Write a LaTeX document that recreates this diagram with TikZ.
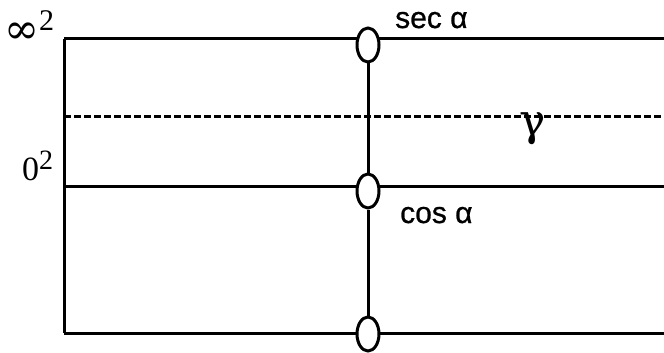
\documentclass[tikz,border=0pt]{standalone}
\usepackage{fontspec}
\setmainfont{Liberation Serif}
\newfontfamily\labelsans[FakeBold=0.8]{Liberation Sans}
\newfontfamily\symserif{DejaVu Serif}
\usetikzlibrary{shapes.geometric}
\tikzset{
  ln/.style={line width=3pt},
  dline/.style={line width=3pt, dash pattern=on 7pt off 3pt},
  knot/.style={ellipse, draw, line width=3pt, fill=white, minimum width=22pt, minimum height=34pt, inner sep=0pt},
  sanslab/.style={font=\labelsans\fontsize{30}{34}\selectfont, inner sep=0pt, anchor=base west},
  seriflab/.style={font=\fontsize{34}{38}\selectfont, inner sep=0pt, anchor=base west}
}
\begin{document}
\begin{tikzpicture}[x=1pt,y=-1pt]
\useasboundingbox (0,0) rectangle (664,353);
\coordinate (tl) at (64,39);
\coordinate (tr) at (664,39);
\coordinate (dl) at (64,116);
\coordinate (dr) at (664,116);
\coordinate (ml) at (64,186);
\coordinate (mr) at (664,186);
\coordinate (bl) at (64,333);
\coordinate (br) at (664,333);
\draw[ln] (tl) -- (tr);
\draw[ln] (ml) -- (mr);
\draw[ln] (bl) -- (br);
\draw[ln] (tl) -- (bl);
\draw[dline] (dl) -- (dr);
\node[knot] (e1) at (368,45) {};
\node[knot] (e2) at (368,191) {};
\node[knot] (e3) at (368,334) {};
\draw[ln] (e1) -- (e2);
\draw[ln] (e2) -- (e3);
\node[sanslab] (sec) at (395,28) {sec α};
\node[sanslab] (cos) at (400,223) {cos α};
\node[seriflab] (inf) at (4,44) {{\symserif\fontsize{42}{44}\selectfont ∞}\raisebox{13pt}{\fontsize{30}{32}\selectfont 2}};
\node[seriflab] (zero) at (22,180) {0\raisebox{11pt}{\fontsize{28}{30}\selectfont 2}};
\node[font=\symserif\fontsize{44}{46}\selectfont, inner sep=0pt, anchor=north] (gam) at (533,112) {γ};
\end{tikzpicture}
\end{document}
